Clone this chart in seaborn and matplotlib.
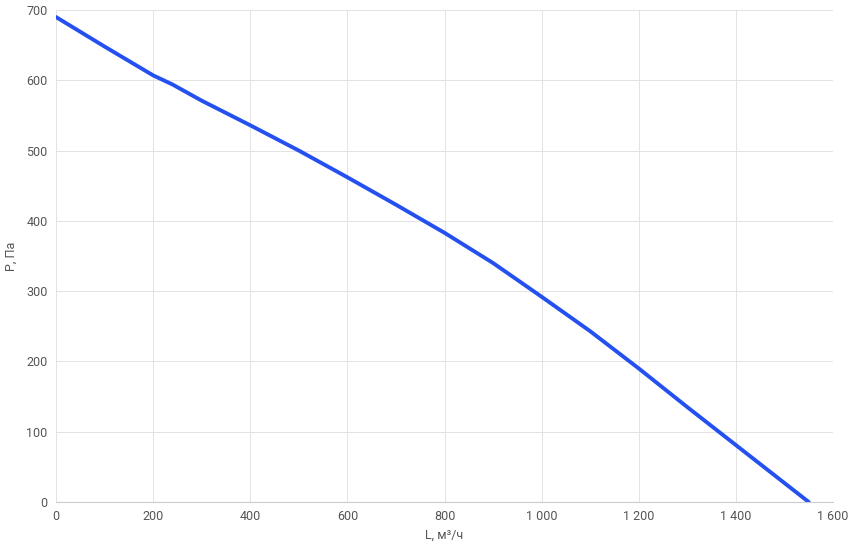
import matplotlib
matplotlib.use("Agg")
import matplotlib.pyplot as plt
import seaborn as sns
import pandas as pd

flow = [0, 100, 200, 240, 300, 400, 500, 600, 700, 800, 900, 1000, 1100, 1200, 1300, 1400, 1500, 1550]
pressure = [690, 648, 607, 594, 571, 536, 500, 462, 423, 383, 340, 292, 243, 190, 135, 81, 27, 0]
xticks = [0, 200, 400, 600, 800, 1000, 1200, 1400, 1600]
xlabels = ["0", "200", "400", "600", "800", "1 000", "1 200", "1 400", "1 600"]
yticks = [0, 100, 200, 300, 400, 500, 600, 700]

sns.set_style("white")
plt.rcParams['font.family'] = ['Roboto', 'DejaVu Sans']
fig = plt.figure(figsize=(8.51, 5.53), dpi=100)
ax = fig.add_axes([56/851, 51/553, 777/851, 492/553])
df = pd.DataFrame({"L": flow, "P": pressure})
sns.lineplot(data=df, x="L", y="P", ax=ax, color="#2450f0", linewidth=2.8,
             solid_joinstyle="round")
ax.set_xlim(0, 1600)
ax.set_ylim(0, 700)
ax.set_xticks(xticks, xlabels)
ax.set_yticks(yticks)
ax.grid(True, color="#e3e3e3", linewidth=0.7)
for s in ["top", "right", "left"]:
    ax.spines[s].set_visible(False)
ax.spines["bottom"].set_color("#cccccc")
ax.tick_params(colors="#555555", labelsize=9, length=0, pad=6)
ax.set_xlabel("L, м³/ч", color="#555555", fontsize=9, labelpad=4)
ax.set_ylabel("P, Па", color="#555555", fontsize=9, labelpad=6)
fig.savefig("out.png", dpi=100)
